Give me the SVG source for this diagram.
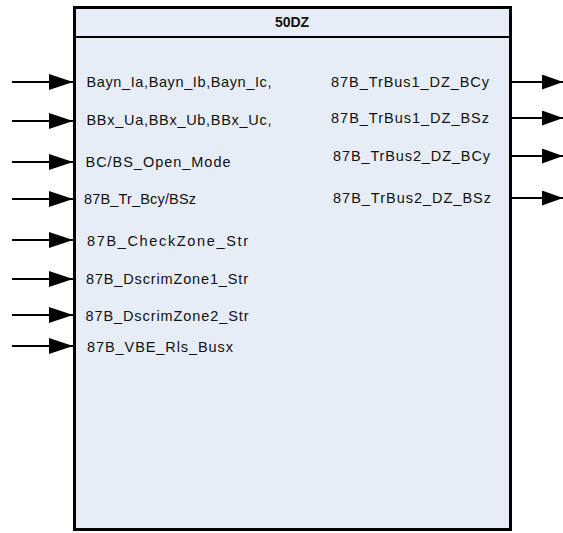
<svg xmlns="http://www.w3.org/2000/svg" width="563" height="533" viewBox="0 0 563 533">
<style>
.lbl{font-family:"Liberation Sans",Arial,sans-serif;font-size:14.5px;fill:#111}
.ttl{font-family:"Liberation Sans",Arial,sans-serif;font-size:14px;font-weight:bold;fill:#111}
.cn{stroke:#000;stroke-width:2;fill:none}
</style>
<defs>
<marker id="ah" markerWidth="24" markerHeight="16" refX="24" refY="8" orient="auto" markerUnits="userSpaceOnUse">
<path d="M0,0 L24,8 L0,16 Z" fill="#000"/>
</marker>
<marker id="ah2" markerWidth="21" markerHeight="15" refX="21" refY="7.5" orient="auto" markerUnits="userSpaceOnUse">
<path d="M0,0 L21,7.5 L0,15 Z" fill="#000"/>
</marker>
</defs>
<g id="block50DZ">
<rect x="74.5" y="7.5" width="436" height="522" fill="#E6EDF7" stroke="#000" stroke-width="3"/>
<line x1="74.5" y1="37" x2="510.5" y2="37" stroke="#000" stroke-width="2"/>
<text class="ttl" x="292" y="27" text-anchor="middle">50DZ</text>
<text class="lbl" x="86.5" y="87" textLength="185" lengthAdjust="spacing">Bayn_Ia,Bayn_Ib,Bayn_Ic,</text>
<text class="lbl" x="86.5" y="125" textLength="185" lengthAdjust="spacing">BBx_Ua,BBx_Ub,BBx_Uc,</text>
<text class="lbl" x="85.5" y="167" textLength="145" lengthAdjust="spacing">BC/BS_Open_Mode</text>
<text class="lbl" x="84" y="204" textLength="112" lengthAdjust="spacing">87B_Tr_Bcy/BSz</text>
<text class="lbl" x="87" y="246" textLength="161" lengthAdjust="spacing">87B_CheckZone_Str</text>
<text class="lbl" x="86" y="284" textLength="162" lengthAdjust="spacing">87B_DscrimZone1_Str</text>
<text class="lbl" x="85.5" y="321" textLength="163" lengthAdjust="spacing">87B_DscrimZone2_Str</text>
<text class="lbl" x="87" y="352" textLength="146" lengthAdjust="spacing">87B_VBE_Rls_Busx</text>
<text class="lbl" x="331" y="87" textLength="158" lengthAdjust="spacing">87B_TrBus1_DZ_BCy</text>
<text class="lbl" x="331" y="123" textLength="158" lengthAdjust="spacing">87B_TrBus1_DZ_BSz</text>
<text class="lbl" x="333" y="161" textLength="157" lengthAdjust="spacing">87B_TrBus2_DZ_BCy</text>
<text class="lbl" x="333" y="203" textLength="158" lengthAdjust="spacing">87B_TrBus2_DZ_BSz</text>
</g>
<g id="connectors">
<line class="cn" x1="12" y1="82" x2="73" y2="82" marker-end="url(#ah)"/>
<line class="cn" x1="12" y1="121" x2="73" y2="121" marker-end="url(#ah)"/>
<line class="cn" x1="12" y1="162" x2="73" y2="162" marker-end="url(#ah)"/>
<line class="cn" x1="12" y1="199" x2="73" y2="199" marker-end="url(#ah)"/>
<line class="cn" x1="12" y1="240" x2="73" y2="240" marker-end="url(#ah)"/>
<line class="cn" x1="12" y1="279" x2="73" y2="279" marker-end="url(#ah)"/>
<line class="cn" x1="12" y1="315" x2="73" y2="315" marker-end="url(#ah)"/>
<line class="cn" x1="12" y1="346" x2="73" y2="346" marker-end="url(#ah)"/>
<line class="cn" x1="512" y1="82" x2="563" y2="82" marker-end="url(#ah2)"/>
<line class="cn" x1="512" y1="118" x2="563" y2="118" marker-end="url(#ah2)"/>
<line class="cn" x1="512" y1="156" x2="563" y2="156" marker-end="url(#ah2)"/>
<line class="cn" x1="512" y1="198" x2="563" y2="198" marker-end="url(#ah2)"/>
</g>
</svg>
